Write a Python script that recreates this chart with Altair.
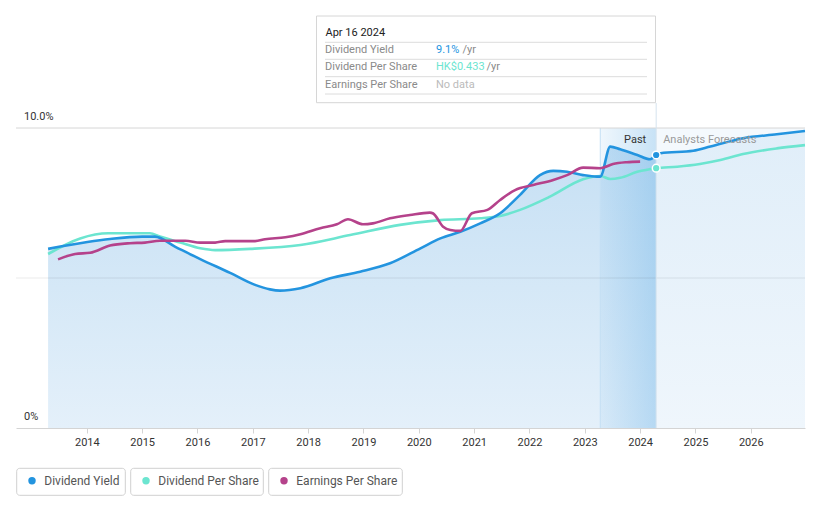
import altair as alt
import pandas as pd

FONT = "Roboto"
BLUE = "#2394DF"
TEAL = "#6CE5D0"
MAG = "#B5428B"

# ---------------- data (decimal years, chart units: % for yield) ----------------
dy_years = [2013.30, 2014.01, 2014.42, 2015.00, 2015.23, 2015.60, 2016.05, 2016.59,
            2017.04, 2017.31, 2017.49, 2017.86, 2018.40, 2018.94, 2019.48, 2020.03,
            2020.39, 2020.75, 2021.11, 2021.47, 2021.83, 2022.19, 2022.43, 2022.68,
            2022.97, 2023.22, 2023.28, 2023.46, 2023.64, 2023.95, 2024.18, 2024.29]
dy_vals = [5.97, 6.20, 6.30, 6.38, 6.38, 6.04, 5.63, 5.17,
           4.77, 4.62, 4.58, 4.66, 4.99, 5.21, 5.49, 5.99,
           6.32, 6.54, 6.82, 7.16, 7.77, 8.43, 8.57, 8.54,
           8.43, 8.38, 8.38, 9.38, 9.29, 9.10, 8.96, 9.10]
dy_fc_years = [2024.29, 2024.37, 2024.96, 2025.27, 2025.86, 2026.47, 2026.98]
dy_fc_vals = [9.10, 9.16, 9.24, 9.38, 9.66, 9.79, 9.90]

dps_years = [2013.30, 2013.88, 2014.39, 2015.14, 2015.32, 2015.69, 2016.05, 2016.32,
             2016.95, 2017.86, 2018.76, 2019.66, 2020.39, 2021.11, 2021.47, 2021.83,
             2022.37, 2022.97, 2023.28, 2023.46, 2023.64, 2023.95, 2024.29]
dps_vals = [5.80, 6.32, 6.49, 6.49, 6.38, 6.18, 5.99, 5.93,
            5.97, 6.10, 6.43, 6.77, 6.93, 6.99, 7.07, 7.27,
            7.71, 8.29, 8.40, 8.30, 8.34, 8.54, 8.66]
dps_fc_years = [2024.29, 2024.67, 2025.08, 2025.45, 2025.86, 2026.47, 2026.98]
dps_fc_vals = [8.66, 8.71, 8.80, 8.93, 9.13, 9.32, 9.43]

eps_years = [2013.48, 2013.79, 2014.06, 2014.42, 2014.78, 2015.05, 2015.32, 2015.78,
             2016.05, 2016.32, 2016.50, 2017.04, 2017.22, 2017.59, 2017.86, 2018.22,
             2018.52, 2018.72, 2018.99, 2019.17, 2019.48, 2019.84, 2020.20, 2020.26,
             2020.44, 2020.57, 2020.75, 2020.96, 2021.24, 2021.47, 2021.74, 2022.07,
             2022.43, 2022.68, 2022.97, 2023.28, 2023.51, 2023.76, 2024.00]
eps_vals = [5.62, 5.80, 5.84, 6.08, 6.16, 6.18, 6.24, 6.24,
            6.18, 6.18, 6.23, 6.23, 6.29, 6.36, 6.46, 6.66,
            6.79, 6.96, 6.79, 6.82, 6.99, 7.10, 7.18, 7.15,
            6.71, 6.60, 6.57, 7.16, 7.27, 7.60, 7.93, 8.10,
            8.27, 8.43, 8.68, 8.66, 8.80, 8.86, 8.88]

x_domain = [2012.72, 2026.98]
past_start = 2023.28
today = 2024.29
x_tick_vals = list(range(2014, 2027))
y_tick_vals = [10, 0]
y_tick_labels = ["10.0%", "0%"]
grid_vals = [5]
legend_labels = ["Dividend Yield", "Dividend Per Share", "Earnings Per Share"]
legend_colors = [BLUE, TEAL, MAG]

tip_date = "Apr 16 2024"
tip_yield = "9.1%"
tip_dps = "HK$0.433"

# ---------------- scales / encodings ----------------
XS = alt.Scale(domain=x_domain, nice=False, zero=False)
YS = alt.Scale(domain=[0, 10], nice=False, zero=False)
X_AX = alt.Axis(values=x_tick_vals, format="d", title=None, grid=False,
                domainColor="#d4d4d4", tickColor="#d4d4d4", tickSize=5,
                labelColor="#333333", labelFontSize=11, labelFont=FONT,
                labelPadding=3, labelFlush=False)


def X(field="year"):
    return alt.X(f"{field}:Q", scale=XS, axis=X_AX)


def Y(field="v"):
    return alt.Y(f"{field}:Q", scale=YS, axis=None)


def df(years, vals):
    return pd.DataFrame({"year": years, "v": vals})


def txt(s, x, y, color, size=11, align="left"):
    return alt.Chart(alt.Data(values=[{}])).mark_text(
        text=s, align=align, baseline="middle", color=color, fontSize=size, font=FONT
    ).encode(x=alt.value(x), y=alt.value(y))


def box(x1, x2, y1, y2, stroke="#d6d6d6", radius=0):
    return alt.Chart(alt.Data(values=[{}])).mark_rect(
        fill="white", stroke=stroke, strokeWidth=1, cornerRadius=radius
    ).encode(x=alt.value(x1), x2=alt.value(x2), y=alt.value(y1), y2=alt.value(y2))


def hline(x1, x2, y, color="#dcdcdc"):
    return alt.Chart(alt.Data(values=[{}])).mark_rule(color=color, strokeWidth=1).encode(
        x=alt.value(x1), x2=alt.value(x2), y=alt.value(y))


# ---------------- layers ----------------
region_df = pd.DataFrame({"a": [today], "b": [x_domain[1]]})
fc_bg = alt.Chart(region_df).mark_rect(color="#f4f9fd").encode(
    x=X("a"), x2="b", y=alt.Y(datum=10, scale=YS, axis=None), y2=alt.Y2(datum=0))

hist_area = alt.Chart(df(dy_years, dy_vals)).mark_area(
    interpolate="monotone",
    color=alt.LinearGradient(gradient="linear", x1=0, x2=0, y1=0, y2=1,
                             stops=[alt.GradientStop(color="#c6e0f4", offset=0),
                                    alt.GradientStop(color="#e4f0fa", offset=1)])
).encode(x=X(), y=Y())

fc_area = alt.Chart(df(dy_fc_years, dy_fc_vals)).mark_area(
    interpolate="monotone",
    color=alt.LinearGradient(gradient="linear", x1=0, x2=0, y1=0, y2=1,
                             stops=[alt.GradientStop(color="#e0eef9", offset=0),
                                    alt.GradientStop(color="#eff6fc", offset=1)])
).encode(x=X(), y=Y())

past_df = pd.DataFrame({"a": [past_start], "b": [today]})
past_rect = alt.Chart(past_df).mark_rect(
    color=alt.LinearGradient(gradient="linear", x1=0, x2=1, y1=0, y2=0,
                             stops=[alt.GradientStop(color="rgba(100,175,230,0.10)", offset=0),
                                    alt.GradientStop(color="rgba(100,175,230,0.36)", offset=1)])
).encode(x=X("a"), x2="b", y=alt.Y(datum=10, scale=YS, axis=None), y2=alt.Y2(datum=0))

past_edge = alt.Chart(pd.DataFrame({"year": [past_start]})).mark_rule(
    color="#c4dff4", strokeWidth=1).encode(
    x=X(), y=alt.Y(datum=10, scale=YS, axis=None), y2=alt.Y2(datum=0))

today_rule = alt.Chart(pd.DataFrame({"year": [today]})).mark_rule(
    color="#d5e3ee", strokeWidth=1).encode(x=X(), y=alt.value(-25), y2=alt.value(300))

top_grid = alt.Chart(pd.DataFrame({"v": [10]})).mark_rule(color="#d6d6d6", strokeWidth=1).encode(
    y=Y(), x=alt.value(0), x2=alt.value(789))
mid_grid = alt.Chart(pd.DataFrame({"v": grid_vals})).mark_rule(
    color="#000000", opacity=0.08, strokeWidth=1).encode(
    y=Y(), x=alt.value(0), x2=alt.value(789))

ylabels = alt.Chart(pd.DataFrame({"v": y_tick_vals, "t": y_tick_labels})).mark_text(
    align="left", baseline="alphabetic", dy=-8, fontSize=11, font=FONT, color="#333333"
).encode(y=Y(), x=alt.value(8), text="t:N")

LW = 2.6
dps_line = alt.Chart(df(dps_years + dps_fc_years[1:], dps_vals + dps_fc_vals[1:])).mark_line(
    interpolate="monotone", color=TEAL, strokeWidth=LW).encode(x=X(), y=Y())
dy_line = alt.Chart(df(dy_years + dy_fc_years[1:], dy_vals + dy_fc_vals[1:])).mark_line(
    interpolate="monotone", color=BLUE, strokeWidth=LW).encode(x=X(), y=Y())
eps_line = alt.Chart(df(eps_years, eps_vals)).mark_line(
    interpolate="monotone", color=MAG, strokeWidth=LW).encode(x=X(), y=Y())

dots_df = pd.DataFrame({"year": [today, today], "v": [dy_fc_vals[0], dps_fc_vals[0]],
                        "c": [BLUE, TEAL]})
dots = alt.Chart(dots_df).mark_point(filled=True, size=60, stroke="white", strokeWidth=1.5,
                                     opacity=1).encode(
    x=X(), y=Y(), fill=alt.Fill("c:N", scale=None))

lab_df = pd.DataFrame({"year": [today]})
past_lab = alt.Chart(lab_df).mark_text(text="Past", align="right", baseline="middle", dx=-10,
                                       fontSize=11, font=FONT, color="#333333").encode(
    x=X(), y=alt.value(12))
fc_lab = alt.Chart(lab_df).mark_text(text="Analysts Forecasts", align="left", baseline="middle",
                                     dx=7, fontSize=11, font=FONT, color="#9a9a9a").encode(
    x=X(), y=alt.value(12))

# tooltip box
tip = [
    box(300.5, 639.5, -112, -25.3),
    txt(tip_date, 309.5, -95.5, "#222222", 11),
    hline(309, 631, -85.7),
    txt(legend_labels[0], 309, -78, "#8a8a8a", 11),
    txt(tip_yield, 420, -78, BLUE, 11),
    txt("/yr", 446.5, -78, "#8a8a8a", 11),
    hline(309, 631, -68.7),
    txt(legend_labels[1], 309, -60.7, "#8a8a8a", 11),
    txt(tip_dps, 420, -60.7, TEAL, 11),
    txt("/yr", 470.5, -60.7, "#8a8a8a", 11),
    hline(309, 631, -51.3),
    txt(legend_labels[2], 309, -42.7, "#8a8a8a", 11),
    txt("No data", 420, -42.7, "#bbbbbb", 11),
    hline(309, 631, -34),
]

# legend
leg = []
boxes = [(0.7, 109.3), (114.7, 247.3), (252.7, 386.3)]
for (b1, b2), lab, col in zip(boxes, legend_labels, legend_colors):
    leg.append(box(b1, b2, 340.3, 367.3, stroke="#d0d0d0", radius=3))
    leg.append(alt.Chart(alt.Data(values=[{}])).mark_point(
        filled=True, size=55, color=col, opacity=1).encode(
        x=alt.value(b1 + 15.3), y=alt.value(352.7)))
    leg.append(txt(lab, b1 + 27.6, 352.7, "#555555", 12))

chart = alt.layer(
    fc_bg, hist_area, fc_area, past_rect, past_edge, top_grid, mid_grid, today_rule,
    dps_line, dy_line, eps_line, dots, past_lab, fc_lab, ylabels, *tip, *leg
).properties(
    width=789, height=300,
    padding={"left": 16, "top": 128, "right": 16, "bottom": 80},
    autosize=alt.AutoSizeParams(type="none"),
    background="white",
).configure_view(stroke=None)

chart.save("out.html", embed_options={"renderer": "svg", "actions": False})
